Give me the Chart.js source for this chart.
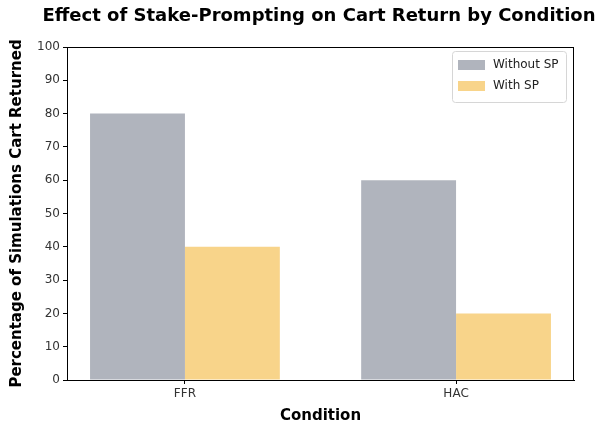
<!DOCTYPE html>
<html>
<head>
<meta charset="utf-8">
<script src="https://cdn.jsdelivr.net/npm/chart.js@4.4.0/dist/chart.umd.min.js"></script>
<style>
    html, body { margin: 0; padding: 0; background: #fff; }
</style>
</head>
<body>
<canvas id="myChart" width="597" height="425"></canvas>
<script>
// ----- DATA -----
const chartTitle = 'Effect of Stake-Prompting on Cart Return by Condition';
const categories = ['FFR', 'HAC'];
const withoutSP = [80, 60];
const withSP = [40, 20];
const seriesLabels = ['Without SP', 'With SP'];
const yTicks = [0, 10, 20, 30, 40, 50, 60, 70, 80, 90, 100];

const grayColor = 'rgb(176, 180, 189)';
const yellowColor = 'rgb(248, 212, 138)';

// bar points on a linear x axis (category index)
function toPoints(values) {
    return values.map((v, i) => ({ x: i, y: v }));
}

// title, frame round the plot + legend box inside, upper right
const framePlugin = {
    id: 'frame',
    afterDraw(chart) {
        const { ctx, chartArea } = chart;
        ctx.save();

        // title (centred a bit right of canvas centre, like the reference)
        ctx.fillStyle = '#000';
        ctx.font = 'bold 18px "DejaVu Sans"';
        ctx.textAlign = 'center';
        ctx.textBaseline = 'middle';
        ctx.fillText(chartTitle, 319, 16);

        ctx.strokeStyle = '#000';
        ctx.lineWidth = 1;
        ctx.strokeRect(chartArea.left + 0.5, chartArea.top + 0.5,
            chartArea.right - chartArea.left - 1, chartArea.bottom - chartArea.top);

        // legend
        const bx = chartArea.right - 122, by = chartArea.top + 4;
        const bw = 114, bh = 51;
        ctx.fillStyle = 'rgba(255,255,255,0.85)';
        ctx.strokeStyle = '#d6d6d6';
        ctx.beginPath();
        ctx.roundRect(bx + 0.5, by + 0.5, bw, bh, 3);
        ctx.fill();
        ctx.stroke();
        ctx.font = '12px "DejaVu Sans"';
        ctx.textAlign = 'left';
        ctx.textBaseline = 'middle';
        chart.data.datasets.forEach((ds, i) => {
            const ry = by + 14 + i * 21;
            ctx.fillStyle = ds.backgroundColor;
            ctx.fillRect(bx + 6, ry - 5, 27, 10);
            ctx.fillStyle = '#222';
            ctx.fillText(ds.label, bx + 41, ry);
        });
        ctx.restore();
    }
};

const ctx = document.getElementById('myChart').getContext('2d');

new Chart(ctx, {
    type: 'bar',
    data: {
        datasets: [{
            label: seriesLabels[0],
            data: toPoints(withoutSP),
            backgroundColor: grayColor,
            borderWidth: 0,
            categoryPercentage: 0.7,
            barPercentage: 1.0
        }, {
            label: seriesLabels[1],
            data: toPoints(withSP),
            backgroundColor: yellowColor,
            borderWidth: 0,
            categoryPercentage: 0.7,
            barPercentage: 1.0
        }]
    },
    options: {
        responsive: false,
        animation: false,
        devicePixelRatio: 1,
        layout: { padding: { left: 0, right: 23, top: 47, bottom: 0 } },
        plugins: {
            legend: { display: false },
            tooltip: { enabled: false },
            title: { display: false }
        },
        scales: {
            x: {
                type: 'linear',
                min: -0.435,
                max: 1.435,
                offset: false,
                afterBuildTicks(axis) {
                    axis.ticks = categories.map((c, i) => ({ value: i }));
                },
                afterFit(axis) { axis.height = 45; },
                ticks: {
                    color: '#333',
                    autoSkip: false,
                    maxRotation: 0,
                    font: { family: 'DejaVu Sans', size: 12 },
                    padding: 3,
                    callback: (v) => categories[v]
                },
                grid: { offset: false, drawOnChartArea: false, drawTicks: true, tickLength: 4, color: '#000' },
                border: { display: true, color: '#000' },
                title: {
                    display: true,
                    text: 'Condition',
                    color: '#000',
                    font: { family: 'DejaVu Sans', size: 15, weight: 'bold' },
                    padding: { top: 2, bottom: 0 }
                }
            },
            y: {
                min: 0,
                max: 100,
                afterBuildTicks(axis) {
                    axis.ticks = yTicks.map(v => ({ value: v }));
                },
                afterFit(axis) { axis.width = 67; },
                ticks: {
                    color: '#333',
                    autoSkip: false,
                    font: { family: 'DejaVu Sans', size: 12 },
                    padding: 3
                },
                grid: { drawOnChartArea: false, drawTicks: true, tickLength: 4, color: '#000' },
                border: { display: true, color: '#000' },
                title: {
                    display: true,
                    text: 'Percentage of Simulations Cart Returned',
                    color: '#000',
                    font: { family: 'DejaVu Sans', size: 15, weight: 'bold' },
                    padding: { top: 8, bottom: 0 }
                }
            }
        }
    },
    plugins: [framePlugin]
});
</script>
</body>
</html>
